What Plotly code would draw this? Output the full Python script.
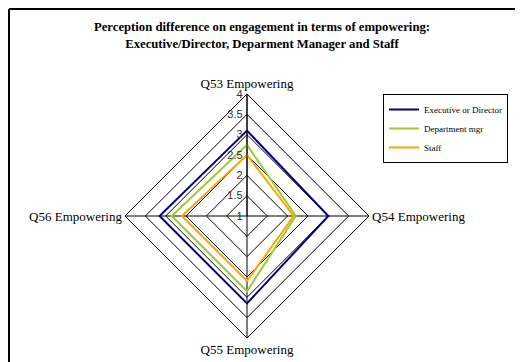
import plotly.graph_objects as go

# chart data
categories = ["Q53 Empowering", "Q54 Empowering", "Q55 Empowering", "Q56 Empowering"]
executive = [3.1, 3.0, 3.15, 3.15]
dept_mgr = [2.75, 2.2, 2.85, 2.85]
staff = [2.5, 2.15, 2.6, 2.6]
radial_ticks = [1, 1.5, 2, 2.5, 3, 3.5, 4]

# the page body adds an 8px margin, so the figure is sized to the rest of the window
W, H = 515, 354
serif = "Liberation Serif, Times New Roman, serif"

fig = go.Figure()

series = [
    ("Executive or Director", executive, "#000080"),
    ("Department mgr", dept_mgr, "#9ACD32"),
    ("Staff", staff, "#FFA500"),
]
for name, vals, color in series:
    # close the polygon
    fig.add_trace(go.Scatterpolar(
        r=vals + vals[:1],
        theta=categories + categories[:1],
        mode="lines",
        name=name,
        line=dict(color=color, width=2),
    ))

# polar placement (figure px): centre (239, 208), radius ~122
cx, cy, rad = 239, 208, 122
fig.update_layout(
    width=W, height=H,
    margin=dict(l=0, r=0, t=0, b=0),
    paper_bgcolor="white",
    plot_bgcolor="white",
    title=dict(
        text="Perception difference on engagement in terms of empowering:<br>Executive/Director, Deparment Manager and Staff",
        x=254 / W, xanchor="center",
        y=1 - 23 / H, yanchor="top",
        font=dict(family=serif, size=12.7, color="black", weight="bold"),
    ),
    polar=dict(
        domain=dict(x=[(cx - rad) / W, (cx + rad) / W],
                    y=[(H - cy - rad) / H, (H - cy + rad) / H]),
        bgcolor="white",
        gridshape="linear",
        radialaxis=dict(
            range=[1, 4],
            tickvals=radial_ticks,
            ticktext=[str(t) for t in radial_ticks],
            angle=90,
            tickangle=90,
            side="counterclockwise",
            showline=True,
            linecolor="black",
            linewidth=1,
            gridcolor="black",
            gridwidth=1,
            ticks="",
            tickfont=dict(family="Liberation Sans, Arial, sans-serif", size=11, color="#333"),
        ),
        angularaxis=dict(
            rotation=90,
            direction="clockwise",
            showline=True,
            linecolor="black",
            linewidth=1,
            gridcolor="black",
            gridwidth=1,
            ticks="",
            tickfont=dict(family=serif, size=13, color="black"),
        ),
    ),
    legend=dict(
        x=375 / W, xanchor="left",
        y=1 - 86 / H, yanchor="top",
        bgcolor="white",
        bordercolor="black",
        borderwidth=1,
        font=dict(family=serif, size=9, color="black"),
        itemwidth=30,
        tracegroupgap=0,
    ),
    shapes=[
        dict(type="line", xref="paper", yref="paper",
             x0=1 / W, x1=1, y0=1 - 1 / H, y1=1 - 1 / H,
             line=dict(color="black", width=2)),
        dict(type="line", xref="paper", yref="paper",
             x0=1 / W, x1=1 / W, y0=0, y1=1 - 1 / H,
             line=dict(color="black", width=2)),
    ],
)

fig.write_html("out.html")
